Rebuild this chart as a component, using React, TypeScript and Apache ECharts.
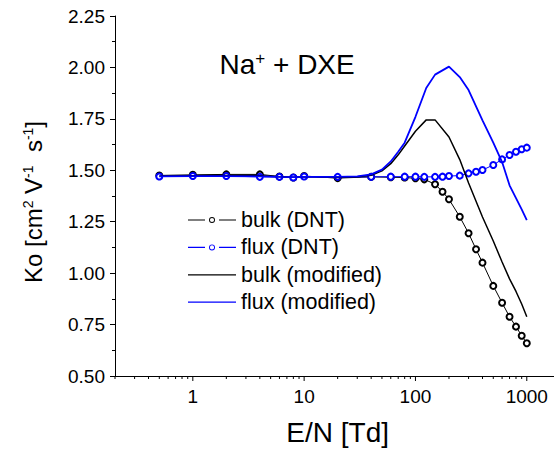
import React, { useEffect, useRef } from 'react';
import * as echarts from 'echarts';

// ---- data ----
const E_DNT = [0.5, 1, 2, 4, 6, 8, 10, 20, 40, 60, 80, 100, 120, 150, 175, 200, 250, 300, 350, 400, 500, 600, 700, 800, 900, 1000];
const BULK_DNT = [1.475, 1.478, 1.48, 1.48, 1.47, 1.465, 1.472, 1.462, 1.468, 1.466, 1.465, 1.461, 1.456, 1.432, 1.396, 1.359, 1.274, 1.194, 1.116, 1.051, 0.938, 0.856, 0.788, 0.74, 0.696, 0.659];
const FLUX_DNT = [1.47, 1.472, 1.472, 1.468, 1.468, 1.465, 1.47, 1.468, 1.468, 1.469, 1.469, 1.469, 1.468, 1.468, 1.469, 1.472, 1.474, 1.485, 1.493, 1.501, 1.526, 1.553, 1.574, 1.59, 1.602, 1.61];

const E_MOD = [0.5, 1, 2, 4, 6, 8, 10, 20, 30, 40, 50, 60, 70, 80, 100, 125, 150, 200, 250, 300, 400, 500, 600, 700, 800, 900, 1000];
const BULK_MOD = [1.472, 1.474, 1.475, 1.474, 1.468, 1.466, 1.468, 1.465, 1.468, 1.476, 1.497, 1.532, 1.575, 1.618, 1.69, 1.745, 1.745, 1.662, 1.552, 1.438, 1.273, 1.156, 1.054, 0.972, 0.911, 0.85, 0.788];
const FLUX_MOD = [1.47, 1.472, 1.472, 1.47, 1.468, 1.467, 1.468, 1.468, 1.47, 1.48, 1.503, 1.543, 1.59, 1.634, 1.76, 1.9, 1.965, 2.004, 1.953, 1.89, 1.743, 1.634, 1.54, 1.427, 1.365, 1.31, 1.258];

const SERIES_NAMES = ['bulk (DNT)', 'flux (DNT)', 'bulk (modified)', 'flux (modified)'];
const X_LABELS = [1, 10, 100, 1000];
const X_MIN = 0.2;
const X_MAX = 2000;
const X_DECADES = [0.1, 1, 10, 100, 1000];
const X_MULTS = [1, 2, 3, 4, 5, 6, 7, 8, 9];
const Y_MIN = 0.5;
const Y_MAX = 2.25;
const Y_STEP = 0.25;

const FONT = '"Liberation Sans", Arial, Helvetica, sans-serif';
const BLUE = '#0000ff';
const BLACK = '#000000';

// legend icons: "—o—" for the DNT series, plain line for the modified series
const ICON_DOT_LINE =
  'path://M0 3.4H17V4.6H0Z M31 3.4H48V4.6H31Z ' +
  'M27 4A3 3 0 1 0 21 4A3 3 0 1 0 27 4Z M26.1 4A2.1 2.1 0 1 1 21.9 4A2.1 2.1 0 1 1 26.1 4Z';
const ICON_LINE = 'path://M0 3.4H48V4.6H0Z';

export default function App() {
  const ref = useRef<HTMLDivElement>(null);

  useEffect(() => {
    const chart = echarts.init(ref.current!, null, { renderer: 'svg' });
    const zip = (xs: number[], ys: number[]) => xs.map((x, i) => [x, ys[i]]);

    const tickData: number[][] = [];
    X_DECADES.forEach((d) =>
      X_MULTS.forEach((m) => {
        const v = +(d * m).toPrecision(3);
        if (v >= X_MIN && v <= X_MAX) tickData.push([v, Y_MIN, m === 1 ? 1 : 0]);
      })
    );

    const isLabel = (v: number) => X_LABELS.some((l) => Math.abs(Math.log10(v) - Math.log10(l)) < 1e-6);

    chart.setOption({
      animation: false,
      backgroundColor: '#ffffff',
      title: {
        text: '{a|Na}{s|+}{a| + DXE}',
        left: 219.5,
        top: 50,
        padding: 0,
        textStyle: {
          fontFamily: FONT,
          fontWeight: 'normal',
          rich: {
            a: { fontFamily: FONT, fontSize: 28, color: BLACK },
            s: { fontFamily: FONT, fontSize: 17, color: BLACK, verticalAlign: 'top' },
          },
        },
      },
      legend: {
        orient: 'vertical',
        left: 188,
        top: 209,
        padding: 0,
        itemWidth: 48,
        itemHeight: 8,
        itemGap: 5.4,
        symbolKeepAspect: true,
        textStyle: { fontFamily: FONT, fontSize: 21.5, color: BLACK },
        data: [
          { name: SERIES_NAMES[0], icon: ICON_DOT_LINE, itemStyle: { color: BLACK, borderWidth: 0 } },
          { name: SERIES_NAMES[1], icon: ICON_DOT_LINE, itemStyle: { color: BLUE, borderWidth: 0 } },
          { name: SERIES_NAMES[2], icon: ICON_LINE, itemStyle: { color: BLACK, borderWidth: 0 } },
          { name: SERIES_NAMES[3], icon: ICON_LINE, itemStyle: { color: BLUE, borderWidth: 0 } },
        ],
      },
      grid: {
        left: 115,
        top: 16,
        width: 445.3,
        height: 360,
        containLabel: false,
        outerBoundsMode: 'none',
      },
      xAxis: {
        type: 'log',
        logBase: 10,
        min: X_MIN,
        max: X_MAX,
        name: 'E/N [Td]',
        nameLocation: 'middle',
        nameGap: 42.5,
        nameTextStyle: { fontFamily: FONT, fontSize: 28, color: BLACK },
        axisLine: { show: true, onZero: false, lineStyle: { color: BLACK, width: 1 } },
        axisTick: { show: false },
        minorTick: { show: false },
        splitLine: { show: false },
        minorSplitLine: { show: false },
        axisLabel: {
          margin: 11,
          fontFamily: FONT,
          fontSize: 19,
          color: BLACK,
          formatter: (v: number) => (isLabel(v) ? String(Math.round(v)) : ''),
        },
      },
      yAxis: {
        type: 'value',
        min: Y_MIN,
        max: Y_MAX,
        interval: Y_STEP,
        name: '{a|Ko [cm}{s|2}{a| V}{s|-1}{a|  s}{s|-1}{a|]}',
        nameLocation: 'middle',
        nameRotate: 90,
        nameGap: 70,
        nameTextStyle: {
          fontFamily: FONT,
          fontSize: 24,
          color: BLACK,
          padding: [0, 12, 0, 0],
          rich: {
            a: { fontFamily: FONT, fontSize: 24, color: BLACK },
            s: { fontFamily: FONT, fontSize: 14, color: BLACK, verticalAlign: 'top' },
          },
        },
        axisLine: { show: true, onZero: false, lineStyle: { color: BLACK, width: 1 } },
        axisTick: { show: true, inside: false, length: 5, lineStyle: { color: BLACK } },
        minorTick: { show: true, splitNumber: 2, length: 3, lineStyle: { color: BLACK } },
        splitLine: { show: false },
        axisLabel: {
          margin: 10,
          fontFamily: FONT,
          fontSize: 19,
          color: BLACK,
          formatter: (v: number) => v.toFixed(2),
        },
      },
      series: [
        {
          name: SERIES_NAMES[0],
          type: 'line',
          data: zip(E_DNT, BULK_DNT),
          symbol: 'emptyCircle',
          symbolSize: 6,
          lineStyle: { color: BLACK, width: 1 },
          itemStyle: { color: BLACK, borderWidth: 1 },
          z: 2,
        },
        {
          name: SERIES_NAMES[1],
          type: 'line',
          data: zip(E_DNT, FLUX_DNT),
          symbol: 'emptyCircle',
          symbolSize: 6,
          lineStyle: { color: BLUE, width: 1 },
          itemStyle: { color: BLUE, borderWidth: 1 },
          z: 3,
        },
        {
          name: SERIES_NAMES[2],
          type: 'line',
          data: zip(E_MOD, BULK_MOD),
          symbol: 'none',
          lineStyle: { color: BLACK, width: 1.5 },
          itemStyle: { color: BLACK },
          z: 4,
        },
        {
          name: SERIES_NAMES[3],
          type: 'line',
          data: zip(E_MOD, FLUX_MOD),
          symbol: 'none',
          lineStyle: { color: BLUE, width: 1.8 },
          itemStyle: { color: BLUE },
          z: 5,
        },
        {
          name: 'x ticks',
          type: 'custom',
          data: tickData,
          encode: { x: 0, y: 1 },
          clip: false,
          silent: true,
          z: 6,
          renderItem: (_params: any, api: any) => {
            const p = api.coord([api.value(0), api.value(1)]);
            const len = api.value(2) ? 5 : 3;
            return {
              type: 'line',
              shape: { x1: p[0], y1: p[1], x2: p[0], y2: p[1] + len },
              style: { stroke: BLACK, lineWidth: 1 },
            };
          },
        },
      ],
    });

    return () => chart.dispose();
  }, []);

  return <div ref={ref} style={{ position: 'fixed', left: 0, top: 0, width: 554, height: 451 }} />;
}
